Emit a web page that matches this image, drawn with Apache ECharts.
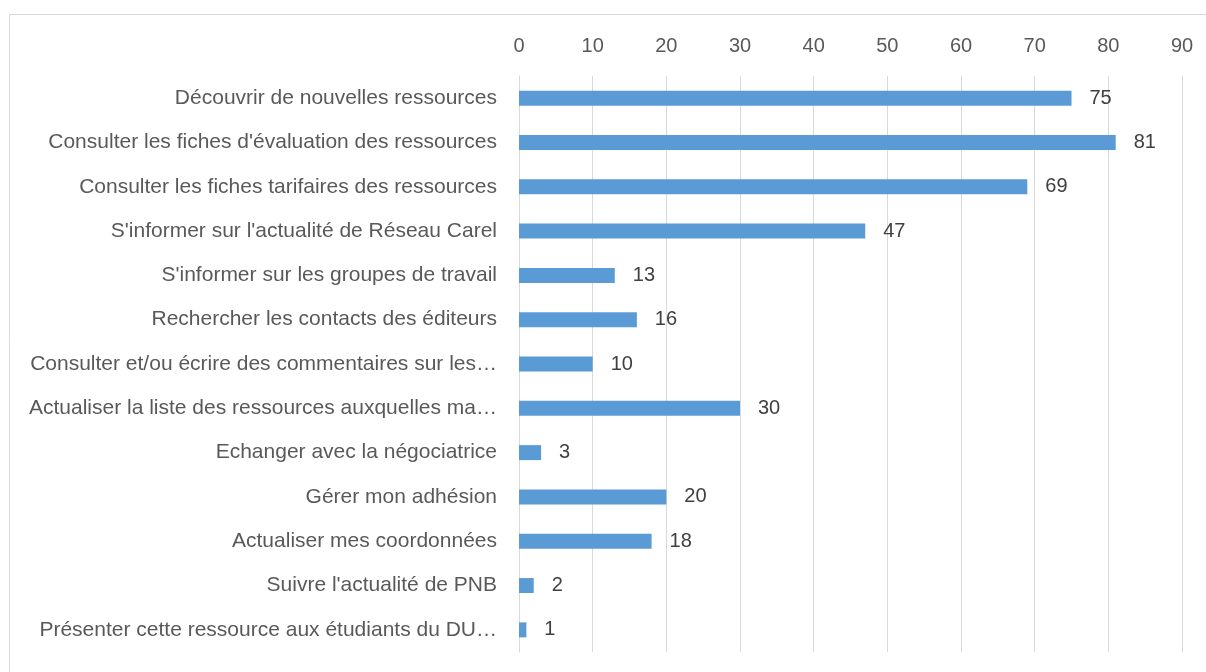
<!DOCTYPE html>
<html><head><meta charset="utf-8">
<script src="https://cdn.jsdelivr.net/npm/echarts@6/dist/echarts.min.js"></script>
<style>html,body{margin:0;padding:0;background:#fff}#c{width:1206px;height:672px}</style>
</head><body><div id="c"></div>
<script>
const categories = [
  "Découvrir de nouvelles ressources",
  "Consulter les fiches d'évaluation des ressources",
  "Consulter les fiches tarifaires des ressources",
  "S'informer sur l'actualité de Réseau Carel",
  "S'informer sur les groupes de travail",
  "Rechercher les contacts des éditeurs",
  "Consulter et/ou écrire des commentaires sur les…",
  "Actualiser la liste des ressources auxquelles ma…",
  "Echanger avec la négociatrice",
  "Gérer mon adhésion",
  "Actualiser mes coordonnées",
  "Suivre l'actualité de PNB",
  "Présenter cette ressource aux étudiants du DU…"
];
const values = [75, 81, 69, 47, 13, 16, 10, 30, 3, 20, 18, 2, 1];
const xTicks = { min: 0, max: 90, interval: 10 };

const chart = echarts.init(document.getElementById('c'));
const font = '"Liberation Sans", sans-serif';
chart.setOption({
  animation: false,
  graphic: [{ type: 'rect', shape: { x: 9.5, y: 14.5, width: 1300, height: 700 },
    style: { fill: 'none', stroke: '#d9d9d9', lineWidth: 1 } }],
  grid: { left: 519, right: 24, top: 76, bottom: 20, containLabel: false },
  xAxis: {
    type: 'value', position: 'top', min: xTicks.min, max: xTicks.max, interval: xTicks.interval,
    axisLine: { show: false }, axisTick: { show: false },
    axisLabel: { color: '#595959', fontSize: 20, fontFamily: font, margin: 20 },
    splitLine: { lineStyle: { color: '#d9d9d9', width: 1 } }
  },
  yAxis: {
    type: 'category', inverse: true, data: categories,
    axisLine: { show: true, lineStyle: { color: '#d9d9d9' } }, axisTick: { show: false },
    axisLabel: { color: '#595959', fontSize: 21, fontFamily: font, margin: 22, padding: [2, 0, 0, 0] }
  },
  series: [{
    type: 'bar', data: values, barWidth: 15,
    itemStyle: { color: '#5b9bd5' },
    label: { show: true, position: 'right', distance: 18, color: '#404040', fontSize: 20, fontFamily: font, padding: [4, 0, 0, 0] }
  }]
});
</script></body></html>
